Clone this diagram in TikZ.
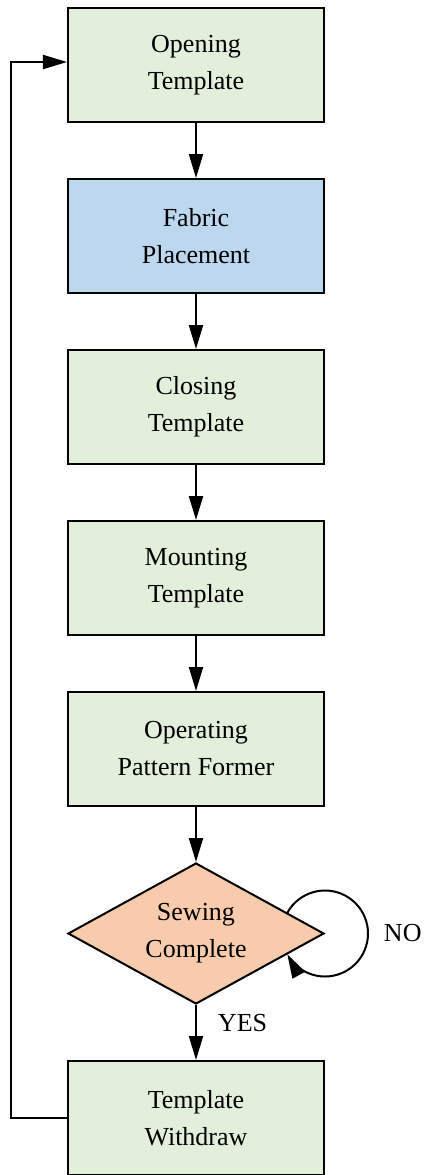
\documentclass[tikz,border=0pt]{standalone}
\usepackage{fontspec}
\setmainfont{Liberation Serif}
\usetikzlibrary{positioning,shapes.geometric,arrows.meta}
\definecolor{boxgreen}{RGB}{226,239,218}
\definecolor{boxblue}{RGB}{189,215,238}
\definecolor{boxpeach}{RGB}{248,203,173}
\begin{document}
\begin{tikzpicture}[node distance=27.5pt, line width=1pt, >={Triangle[length=12pt,width=7pt]}]
    \tikzstyle{proc}=[draw, fill=boxgreen, minimum width=128pt, minimum height=57pt, inner sep=0pt, align=center, font=\fontsize{13}{18.5}\selectfont]
    \tikzstyle{decide}=[proc, diamond, aspect=2, fill=boxpeach, minimum height=70.5pt]
    \tikzstyle{lbl}=[inner sep=0pt, font=\fontsize{13}{16}\selectfont]
    \useasboundingbox (-98pt,-555pt) rectangle (114.5pt,32.5pt);
    \node[proc] (open) {Opening\\Template};
    \node[proc, fill=boxblue, below=of open] (fabric) {Fabric\\Placement};
    \node[proc, below=of fabric] (close) {Closing\\Template};
    \node[proc, below=of close] (mount) {Mounting\\Template};
    \node[proc, below=of mount] (former) {Operating\\Pattern Former};
    \node[decide, below=of former] (sewn) {Sewing\\Complete};
    \node[proc, below=of sewn] (withdraw) {Template\\Withdraw};
    \draw[->] (open) -- (fabric);
    \draw[->] (fabric) -- (close);
    \draw[->] (close) -- (mount);
    \draw[->] (mount) -- (former);
    \draw[->] (former) -- (sewn);
    \draw[->] (sewn) -- node[lbl, right, xshift=10.5pt, yshift=4.5pt] (yes) {YES} (withdraw);
    % NO loop round the right corner
    \draw[->] (sewn.east) ++(151.3:21.5pt) arc[start angle=151.3, end angle=-151.3, radius=21.5pt];
    \node[lbl, anchor=west] (no) at ([xshift=29pt]sewn.east) {NO};
    % back to the start
    \coordinate (back) at ([xshift=-28pt]withdraw.west);
    \draw[->] (withdraw.west) -- (back) |- ([yshift=1.5pt]open.west);
\end{tikzpicture}
\end{document}
